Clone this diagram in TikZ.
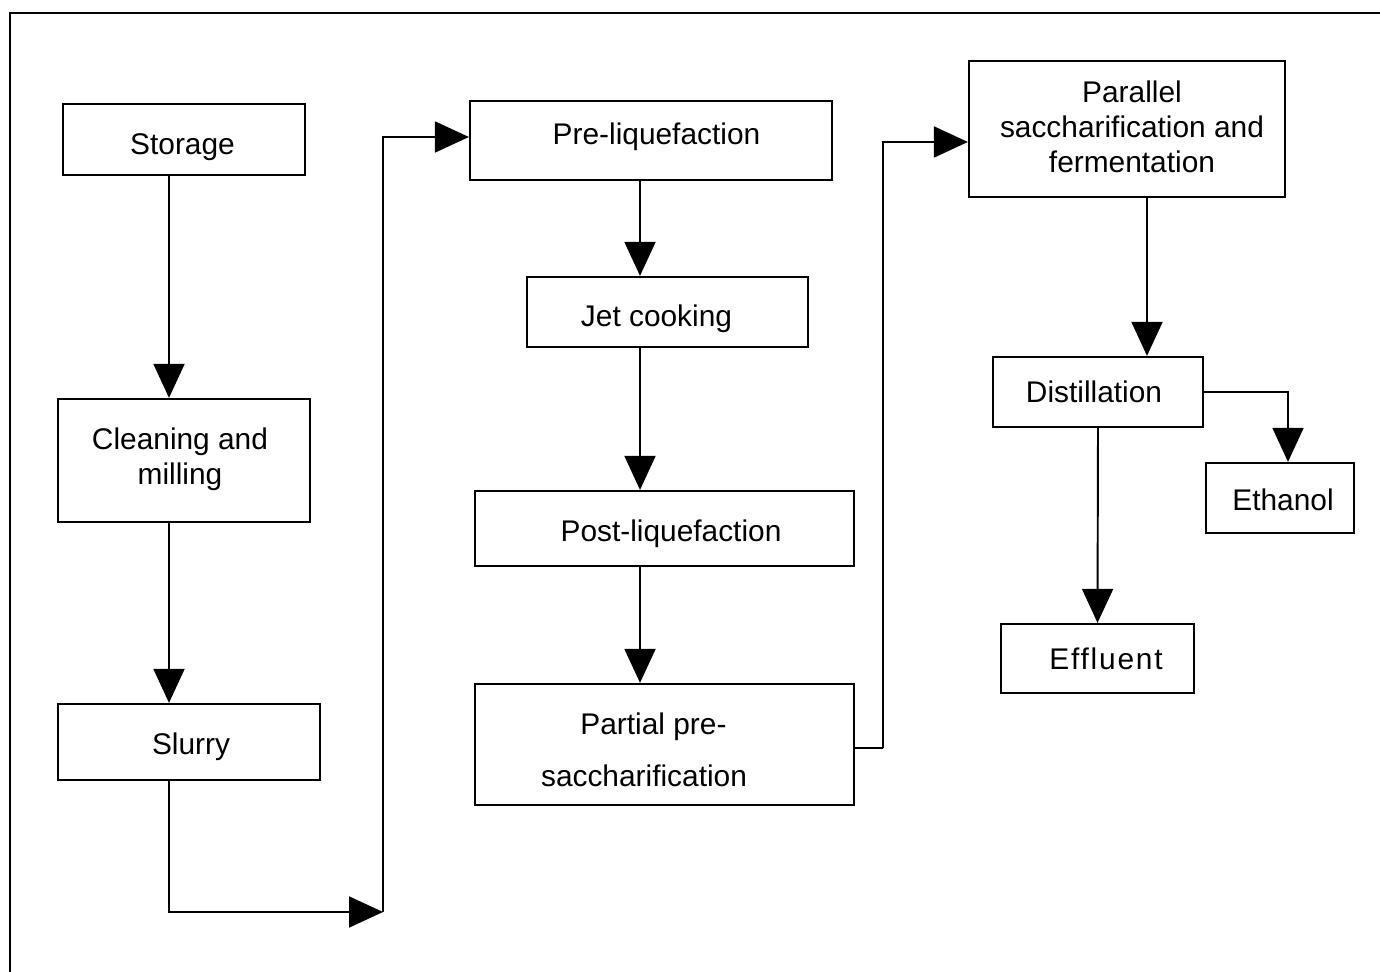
\documentclass[tikz,border=0pt]{standalone}
\usepackage{fontspec}
\setmainfont{Liberation Sans}
\usetikzlibrary{arrows.meta}
\begin{document}
\begin{tikzpicture}[x=0.02cm, y=-0.02cm,
  box/.style={draw, line width=1.3pt, inner sep=0pt},
  txt/.style={font=\fontsize{17}{20}\selectfont, align=center, anchor=base, inner sep=0pt},
  flow/.style={line width=1.1pt, -{Triangle[length=0.68cm,width=0.62cm]}},
  plain/.style={line width=1.1pt}]
  \useasboundingbox (0,0) rectangle (1380,972);
  % open frame round the chart
  \draw[line width=1.2pt] (10,972) -- (10,13) -- (1380,13);

  % process boxes
  \node[box, minimum width=4.84cm, minimum height=1.42cm] (storage) at (184,139.5) {};
  \node[box, minimum width=5.04cm, minimum height=2.46cm] (clean) at (184,460.5) {};
  \node[box, minimum width=5.24cm, minimum height=1.52cm] (slurry) at (189,742) {};
  \node[box, minimum width=7.24cm, minimum height=1.58cm] (preliq) at (651,140.5) {};
  \node[box, minimum width=5.62cm, minimum height=1.40cm] (jet) at (667.5,312) {};
  \node[box, minimum width=7.58cm, minimum height=1.50cm] (post) at (664.5,528.5) {};
  \node[box, minimum width=7.58cm, minimum height=2.42cm] (partial) at (664.5,744.5) {};
  \node[box, minimum width=6.32cm, minimum height=2.72cm] (parallel) at (1127,129) {};
  \node[box, minimum width=4.20cm, minimum height=1.40cm] (distill) at (1098,392) {};
  \node[box, minimum width=2.96cm, minimum height=1.40cm] (ethanol) at (1280,498) {};
  \node[box, minimum width=3.86cm, minimum height=1.38cm] (effluent) at (1097.5,658.5) {};

  % box texts, placed on the baseline of their last line
  \node[txt] (storage-t) at (182.5,155) {Storage};
  \node[txt] (clean-t) at (180,485) {Cleaning and\\milling};
  \node[txt] (slurry-t) at (191,755) {Slurry};
  \node[txt] (preliq-t) at (656.5,145) {Pre-liquefaction};
  \node[txt] (jet-t) at (656.5,327) {Jet cooking};
  \node[txt] (post-t) at (671,542) {Post-liquefaction};
  \node[txt] (partial-t) at (644,787) {\hspace*{0.38cm}Partial pre-\\[9.6pt]saccharification};
  \node[txt] (parallel-t) at (1132,173) {Parallel\\saccharification and\\fermentation};
  \node[txt] (distill-t) at (1094,403) {Distillation};
  \node[txt] (ethanol-t) at (1283,511) {Ethanol};
  \node[txt] (effluent-t) at (1106,670) {\addfontfeature{LetterSpace=6}Effluent};

  % bend points of the long connectors
  \coordinate (low) at (169,912);
  \coordinate (turn) at (383,912);
  \coordinate (riser) at (883,748);

  % connectors
  \draw[flow] ([xshift=-0.3cm]storage.south) -- ([xshift=-0.3cm]clean.north);
  \draw[flow] ([xshift=-0.3cm]clean.south) -- ([xshift=-0.4cm]slurry.north);
  \draw[flow] ([xshift=-0.4cm]slurry.south) -- (low) -- (turn);
  \draw[flow] (turn) |- ([yshift=0.07cm]preliq.west);
  \draw[flow] ([xshift=-0.22cm]preliq.south) -- ([xshift=-0.55cm]jet.north);
  \draw[flow] ([xshift=-0.55cm]jet.south) -- ([xshift=-0.49cm]post.north);
  \draw[flow] ([xshift=-0.49cm]post.south) -- ([xshift=-0.49cm]partial.north);
  \draw[plain] ([yshift=-0.07cm]partial.east) -- (riser);
  \draw[flow] (riser) |- ([yshift=-0.26cm]parallel.west);
  \draw[flow] ([xshift=0.4cm]parallel.south) -- ([xshift=0.98cm]distill.north);
  \draw[flow] (distill.east) -| ([xshift=0.16cm]ethanol.north);
  \draw[flow] (distill.south) -- (effluent.north);
\end{tikzpicture}
\end{document}
